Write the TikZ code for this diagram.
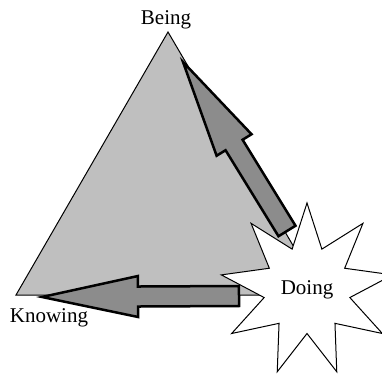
\documentclass[tikz,border=0pt]{standalone}
\usepackage{fontspec}
\setmainfont{Liberation Serif}
\usetikzlibrary{calc, shapes.geometric}

% block arrow from #1 (tail) to #2 (tip)
\newcommand{\blockarrow}[2]{%
    \coordinate (h) at ($(#1)!101pt!(#2)$);
    \draw[blockarrow] ($(#1)!10pt!-90:(#2)$) -- ($(h)!10pt!-90:(#2)$) -- ($(h)!20.5pt!-90:(#2)$)
        -- (#2) -- ($(h)!20.5pt!90:(#2)$) -- ($(h)!10pt!90:(#2)$) -- ($(#1)!10pt!90:(#2)$) -- cycle;}

\begin{document}
\begin{tikzpicture}[
        x=1pt, y=1pt,
        label/.style={inner sep=0pt, anchor=base, font=\fontsize{21}{25}\selectfont},
        face/.style={draw=black, line width=1pt, fill=black!25, line join=miter},
        blockarrow/.style={draw=black, line width=2.5pt, fill=black!45, line join=miter},
        burst/.style={star, star points=9, star point ratio=2.0, minimum size=174pt, inner sep=0pt,
            draw=black, line width=1pt, fill=white, font=\fontsize{21}{25}\selectfont}
    ]
        \useasboundingbox (0,0) rectangle (382,375);

        % corners of the triangle
        \coordinate (being) at (168,343);
        \coordinate (knowing) at (16,80);
        \coordinate (doing) at (322,80);
        \draw[face] (being) -- (knowing) -- (doing) -- cycle;

        \node[label] (beinglabel) at (166,350) {Being};
        \node[label] (knowinglabel) at (49,53) {Knowing};

        % arrows out of the burst
        \coordinate (uptail) at (287,144);
        \coordinate (uptip) at (183,313);
        \coordinate (lefttail) at (239,79);
        \coordinate (lefttip) at (42,78);
        \blockarrow{uptail}{uptip}
        \blockarrow{lefttail}{lefttip}

        \node[burst] (doingburst) at (307,85) {Doing};
    \end{tikzpicture}
\end{document}
